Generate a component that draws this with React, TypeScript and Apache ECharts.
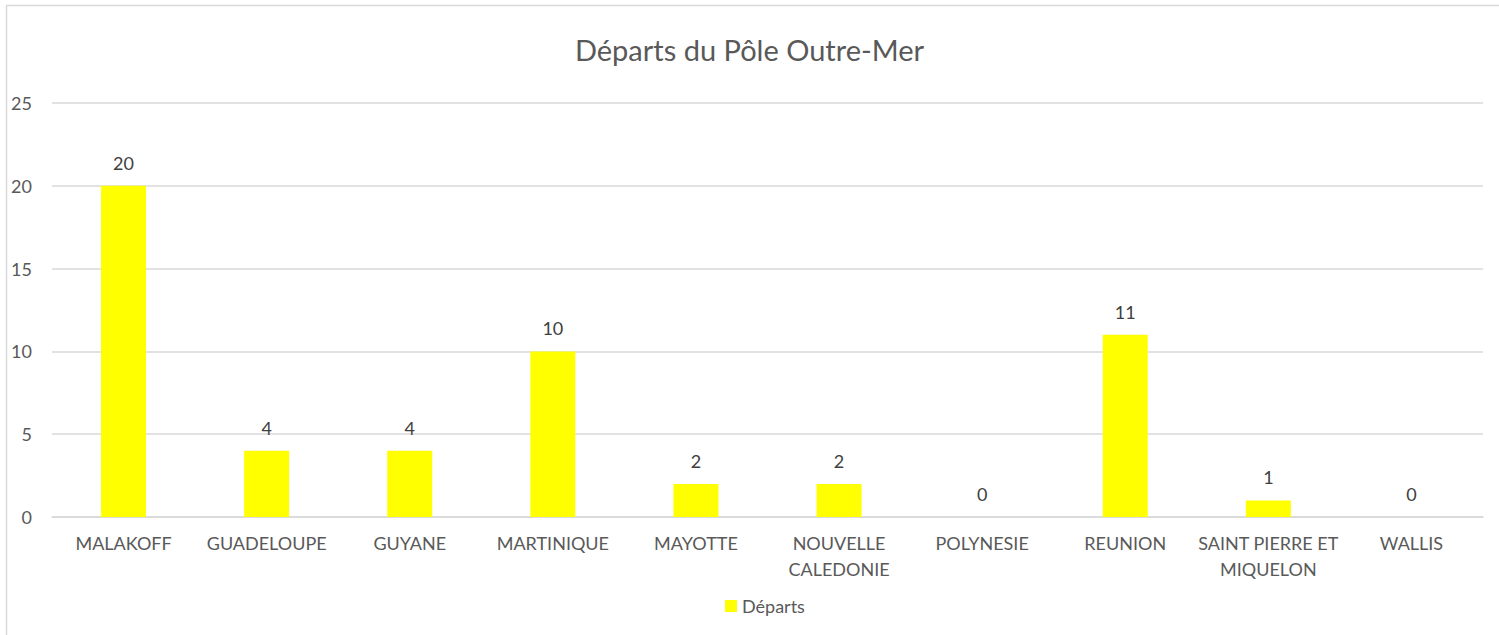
import React, { useEffect, useRef } from "react";
import * as echarts from "echarts";

const categories = [
  "MALAKOFF",
  "GUADELOUPE",
  "GUYANE",
  "MARTINIQUE",
  "MAYOTTE",
  "NOUVELLE\nCALEDONIE",
  "POLYNESIE",
  "REUNION",
  "SAINT PIERRE ET\nMIQUELON",
  "WALLIS",
];
const departs = [20, 4, 4, 10, 2, 2, 0, 11, 1, 0];
const seriesName = "Départs";
const titleText = "Départs du Pôle Outre-Mer";

export default function App() {
  const ref = useRef<HTMLDivElement>(null);
  useEffect(() => {
    if (!ref.current) return;
    const chart = echarts.init(ref.current, undefined, { renderer: "svg" });
    const font = "Lato, 'Open Sans', sans-serif";
    chart.setOption({
      animation: false,
      backgroundColor: "#ffffff",
      textStyle: { fontFamily: font },
      graphic: [
        {
          type: "rect",
          shape: { x: 6.5, y: 5.5, width: 1700, height: 800 },
          style: { fill: "none", stroke: "#d9d9d9", lineWidth: 1.5 },
          silent: true,
          z: -10,
        },
      ],
      title: {
        text: titleText,
        left: "center",
        top: 30,
        textStyle: {
          fontFamily: font,
          fontSize: 29,
          fontWeight: "normal",
          color: "#595959",
        },
      },
      legend: {
        data: [seriesName],
        left: 720,
        top: 592,
        itemWidth: 12,
        itemHeight: 12,
        icon: "rect",
        textStyle: { fontFamily: font, fontSize: 18, color: "#595959" },
      },
      grid: { left: 52, right: 16, top: 103, bottom: 118 },
      xAxis: {
        type: "category",
        data: categories,
        axisTick: { show: false },
        axisLine: { lineStyle: { color: "#d9d9d9", width: 1.5 } },
        axisLabel: {
          interval: 0,
          margin: 13,
          fontFamily: font,
          fontSize: 18,
          lineHeight: 26,
          color: "#595959",
        },
      },
      yAxis: {
        type: "value",
        min: 0,
        max: 25,
        interval: 5,
        axisLine: { show: false },
        axisTick: { show: false },
        splitLine: { lineStyle: { color: "#d9d9d9", width: 1.5 } },
        axisLabel: {
          margin: 20,
          fontFamily: font,
          fontSize: 18,
          color: "#595959",
        },
      },
      series: [
        {
          name: seriesName,
          type: "bar",
          data: departs,
          barWidth: 45,
          itemStyle: { color: "#ffff00" },
          label: {
            show: true,
            position: "top",
            distance: 14,
            fontFamily: font,
            fontSize: 18,
            color: "#404040",
          },
        },
      ],
    });
    return () => chart.dispose();
  }, []);
  return (
    <div
      ref={ref}
      style={{ position: "fixed", left: 0, top: 0, width: 1499, height: 635 }}
    />
  );
}
